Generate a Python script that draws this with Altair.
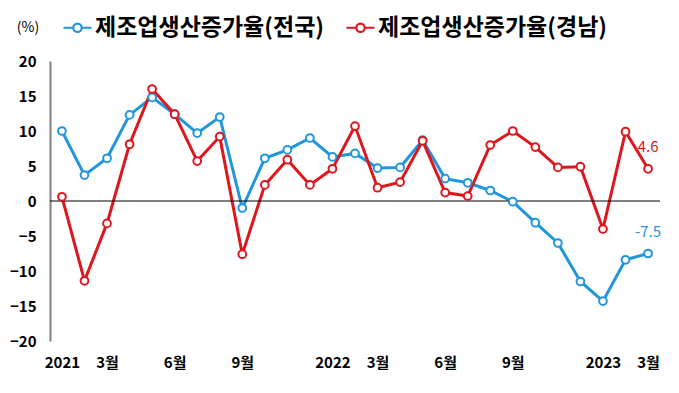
import altair as alt
import pandas as pd

months = list(range(27))  # Jan 2021 .. Mar 2023
national = [10.0, 3.7, 6.1, 12.3, 14.8, 12.4, 9.7, 12.0, -1.0, 6.1, 7.3, 9.0,
            6.3, 6.8, 4.7, 4.8, 8.7, 3.2, 2.6, 1.5, -0.1, -3.1, -6.0, -11.5,
            -14.3, -8.4, -7.5]
gyeongnam = [0.6, -11.4, -3.2, 8.1, 16.0, 12.4, 5.7, 9.2, -7.6, 2.3, 5.9, 2.3,
             4.6, 10.7, 1.9, 2.7, 8.6, 1.2, 0.7, 8.0, 10.0, 7.7, 4.8, 4.9,
             -4.0, 9.9, 4.6]
series_names = ["제조업생산증가율(전국)", "제조업생산증가율(경남)"]
series_colors = ["#2196DC", "#DE161E"]
x_tick_pos = [0, 2, 5, 8, 12, 14, 17, 20, 24, 26]
x_tick_labels = ["2021", "3월", "6월", "9월", "2022", "3월", "6월", "9월", "2023", "3월"]
y_ticks = [-20, -15, -10, -5, 0, 5, 10, 15, 20]

rows = []
for i, m in enumerate(months):
    rows.append({"m": m, "series": series_names[0], "v": national[i]})
    rows.append({"m": m, "series": series_names[1], "v": gyeongnam[i]})
df = pd.DataFrame(rows)

last = pd.DataFrame({
    "m": [months[-1], months[-1]],
    "series": series_names,
    "v": [national[-1], gyeongnam[-1]],
    "label": [f"{national[-1]:.1f}", f"{gyeongnam[-1]:.1f}"],
})

FONT = "Noto Sans CJK KR"

label_expr = ""
for p, l in zip(x_tick_pos, x_tick_labels):
    label_expr += f"datum.value == {p} ? '{l}' : "
label_expr += "''"

x_scale = alt.Scale(domain=[-0.53, 26.53], nice=False, zero=False)
y_scale = alt.Scale(domain=[-20, 20], nice=False)
color_scale = alt.Scale(domain=series_names, range=series_colors)

x_axis = alt.Axis(values=x_tick_pos, labelExpr=label_expr, title=None,
                  domain=False, ticks=False, grid=False,
                  labelFontSize=15, labelFontWeight="bold", labelFont=FONT,
                  labelColor="#000", labelPadding=14, labelFlush=False,
                  labelOverlap=False)
y_axis = alt.Axis(values=y_ticks, title=None,
                  domain=True, domainColor="#808080", domainWidth=2,
                  ticks=False, grid=False, labelFontSize=15,
                  labelFontWeight="bold", labelFont=FONT, labelColor="#000",
                  labelPadding=14, labelOverlap=False)

# line - hollow circle - line; circle drawn both ways so it is not filled
symbol_path = ("M-1,0H-0.3M0.3,0H1"
               "M-0.3,0A0.3,0.3,0,1,1,0.3,0A0.3,0.3,0,1,1,-0.3,0"
               "M-0.3,0A0.3,0.3,0,1,0,0.3,0A0.3,0.3,0,1,0,-0.3,0")

legend = alt.Legend(orient="none", legendX=12, legendY=-49,
                    direction="horizontal", title=None,
                    symbolType=symbol_path, symbolSize=784,
                    symbolStrokeWidth=2.2,
                    labelFont=FONT, labelFontSize=23,
                    labelFontWeight="bold", labelColor="#000",
                    labelOffset=2, columnPadding=18,
                    labelLimit=400, padding=0)

x_enc = alt.X("m:Q", scale=x_scale, axis=x_axis)
y_enc = alt.Y("v:Q", scale=y_scale, axis=y_axis)
stroke_enc = alt.Stroke("series:N", scale=color_scale, legend=legend)

lines = alt.Chart(df).mark_line(strokeWidth=3).encode(
    x=x_enc, y=y_enc, stroke=stroke_enc)
points = alt.Chart(df).mark_point(filled=True, fill="white", size=60, strokeWidth=2,
                                  opacity=1).encode(
    x=x_enc, y=y_enc, stroke=stroke_enc)

zero = alt.Chart(pd.DataFrame({"y": [0]})).mark_rule(color="#000", strokeWidth=1).encode(
    y=alt.Y("y:Q", scale=y_scale, axis=y_axis))

labels = alt.Chart(last).mark_text(dy=-22, fontSize=15, font=FONT, align="center").encode(
    x=x_enc, y=y_enc, text="label:N",
    color=alt.Color("series:N", scale=color_scale, legend=None))

unit = alt.Chart(pd.DataFrame({"t": ["(%)"]})).mark_text(
    fontSize=14, font=FONT, align="center", baseline="middle", color="#000").encode(
    text="t:N", x=alt.value(-22), y=alt.value(-33))

chart = alt.layer(lines, zero, points, labels, unit).properties(
    width=610, height=280,
    background="white",
    autosize=alt.AutoSizeParams(type="none"),
    padding={"left": 42, "top": 53, "right": 11, "bottom": 44},
).configure_view(strokeWidth=0, stroke="transparent")

chart.save("out.html", embed_options={"renderer": "svg", "actions": False})
